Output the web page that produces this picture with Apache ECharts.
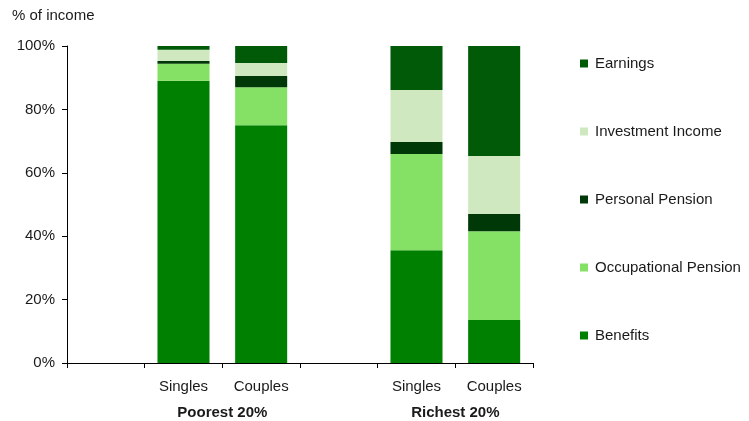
<!DOCTYPE html>
<html>
<head>
<meta charset="utf-8">
<script src="https://cdn.jsdelivr.net/npm/echarts@6/dist/echarts.min.js"></script>
<style>html,body{margin:0;padding:0;background:#fff}#c{width:749px;height:421px}</style>
</head>
<body>
<div id="c"></div>
<script>
const categories = ['', 'Singles', 'Couples', ' ', 'Singles ', 'Couples '];
const groupLabels = ['', '', 'Poorest 20%', '', '', 'Richest 20%', ''];
const seriesNames = ['Benefits', 'Occupational Pension', 'Personal Pension', 'Investment Income', 'Earnings'];
const benefits = [null, 89.0, 75.0, null, 35.6, 13.6];
const occupational = [null, 5.4, 12.0, null, 30.3, 28.0];
const personal = [null, 0.9, 3.5, null, 3.8, 5.4];
const investment = [null, 3.5, 4.1, null, 16.4, 18.3];
const earnings = [null, 1.2, 5.4, null, 13.9, 34.7];
const yTicks = [0, 20, 40, 60, 80, 100];

const values = [benefits, occupational, personal, investment, earnings];
const colors = ['#008000', '#85E066', '#003808', '#CFE8C0', '#005A08'];
const FONT = 'Liberation Sans';

const chart = echarts.init(document.getElementById('c'));
chart.setOption({
  animation: false,
  title: {
    text: '% of income', left: 7, top: 3,
    textStyle: { fontFamily: FONT, fontSize: 15, fontWeight: 'normal', color: '#1a1a1a' }
  },
  grid: { left: 67, right: 216, top: 46, bottom: 58 },
  legend: {
    orient: 'vertical', left: 575, top: 51, itemGap: 53,
    itemWidth: 8, itemHeight: 8, icon: 'rect',
    data: seriesNames.slice().reverse(),
    textStyle: { fontFamily: FONT, fontSize: 15, color: '#1a1a1a', padding: [0, 0, 0, 2] }
  },
  xAxis: [{
    type: 'category', data: categories,
    axisLine: { lineStyle: { color: '#000', width: 1 } },
    axisTick: { show: true, length: 5, lineStyle: { color: '#000' } },
    axisLabel: { margin: 16, fontFamily: FONT, fontSize: 15, color: '#1a1a1a',
      formatter: v => v.trim() }
  }, {
    type: 'category', data: groupLabels, boundaryGap: false, position: 'bottom', offset: 0,
    axisLine: { show: false }, axisTick: { show: false },
    axisLabel: { interval: 0, margin: 42, fontFamily: FONT, fontSize: 15, fontWeight: 'bold', color: '#1a1a1a' }
  }],
  yAxis: {
    type: 'value', min: yTicks[0], max: yTicks[yTicks.length - 1], interval: 20,
    axisLine: { show: true, lineStyle: { color: '#000' } },
    axisTick: { show: true, length: 5, lineStyle: { color: '#000' } },
    splitLine: { show: false },
    axisLabel: { margin: 12, fontFamily: FONT, fontSize: 15, color: '#1a1a1a', formatter: '{value}%' }
  },
  series: seriesNames.map((n, i) => ({
    name: n, type: 'bar', stack: 'total', xAxisIndex: 0,
    barWidth: '67%', data: values[i],
    itemStyle: { color: colors[i] }
  }))
});
</script>
</body>
</html>
